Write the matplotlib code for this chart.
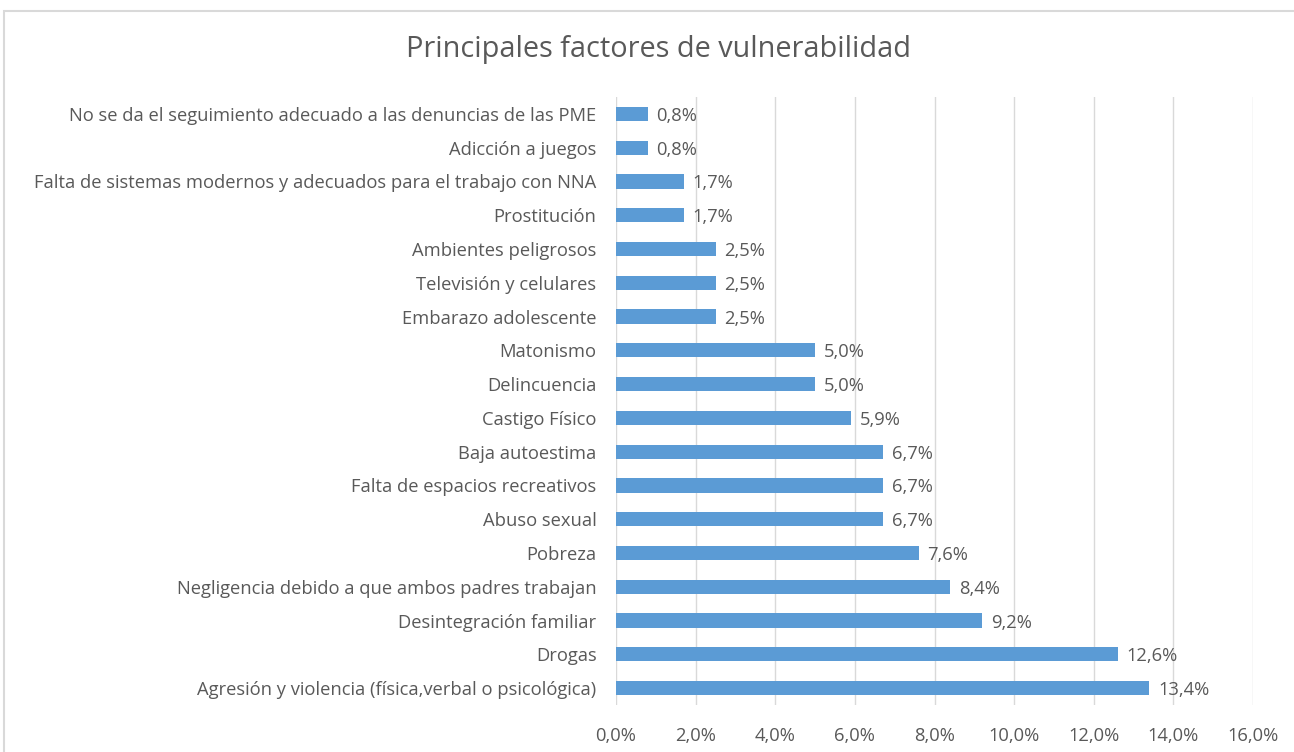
import matplotlib.pyplot as plt
from matplotlib.patches import Rectangle
from matplotlib.ticker import FuncFormatter

# categories listed bottom to top, as matplotlib draws them
factores = [
    "Agresión y violencia (física,verbal o psicológica)",
    "Drogas",
    "Desintegración familiar",
    "Negligencia debido a que ambos padres trabajan",
    "Pobreza",
    "Abuso sexual",
    "Falta de espacios recreativos",
    "Baja autoestima",
    "Castigo Físico",
    "Delincuencia",
    "Matonismo",
    "Embarazo adolescente",
    "Televisión y celulares",
    "Ambientes peligrosos",
    "Prostitución",
    "Falta de sistemas modernos y adecuados para el trabajo con NNA",
    "Adicción a juegos",
    "No se da el seguimiento adecuado a las denuncias de las PME",
]
porcentajes = [13.4, 12.6, 9.2, 8.4, 7.6, 6.7, 6.7, 6.7, 5.9, 5.0, 5.0,
               2.5, 2.5, 2.5, 1.7, 1.7, 0.8, 0.8]
xticks = [0, 2, 4, 6, 8, 10, 12, 14, 16]

plt.rcParams['font.family'] = ['Open Sans', 'DejaVu Sans']
text_color = '#595959'
fs = 13.2

fig = plt.figure(figsize=(12.94, 7.52), dpi=100)

# chart frame (cut off at right and bottom edges in the original)
fig.patches.append(Rectangle((4 / 1294, -0.1), 1.2, 1 - 11 / 752 + 0.1,
                             transform=fig.transFigure, fill=False,
                             edgecolor='#D9D9D9', linewidth=1.5))

ax = fig.add_axes([616 / 1294, 47 / 752, 637 / 1294, 608 / 752])
y = range(len(factores))
ax.barh(y, porcentajes, height=0.42, color='#5B9BD5', zorder=3)

for i, v in enumerate(porcentajes):
    ax.text(v + 0.22, i, f"{v:.1f}%".replace('.', ','), va='center_baseline',
            ha='left', fontsize=fs, color=text_color)

ax.set_xlim(0, 16)
ax.set_ylim(-0.5, len(factores) - 0.5)
ax.set_xticks(xticks)
ax.xaxis.set_major_formatter(FuncFormatter(lambda x, p: f"{x:.1f}%".replace('.', ',')))
ax.set_yticks(list(y))
ax.set_yticklabels(factores, va='center_baseline')
ax.tick_params(axis='both', length=0, labelsize=fs, colors=text_color)
ax.tick_params(axis='x', pad=16)
ax.tick_params(axis='y', pad=14)
ax.grid(axis='x', color='#D9D9D9', linewidth=1, zorder=0)
for s in ax.spines.values():
    s.set_visible(False)

fig.text(658 / 1294, 1 - 50 / 752, "Principales factores de vulnerabilidad",
         ha='center', va='center', fontsize=20.8, color=text_color)

fig.savefig('out.png', dpi=100)
